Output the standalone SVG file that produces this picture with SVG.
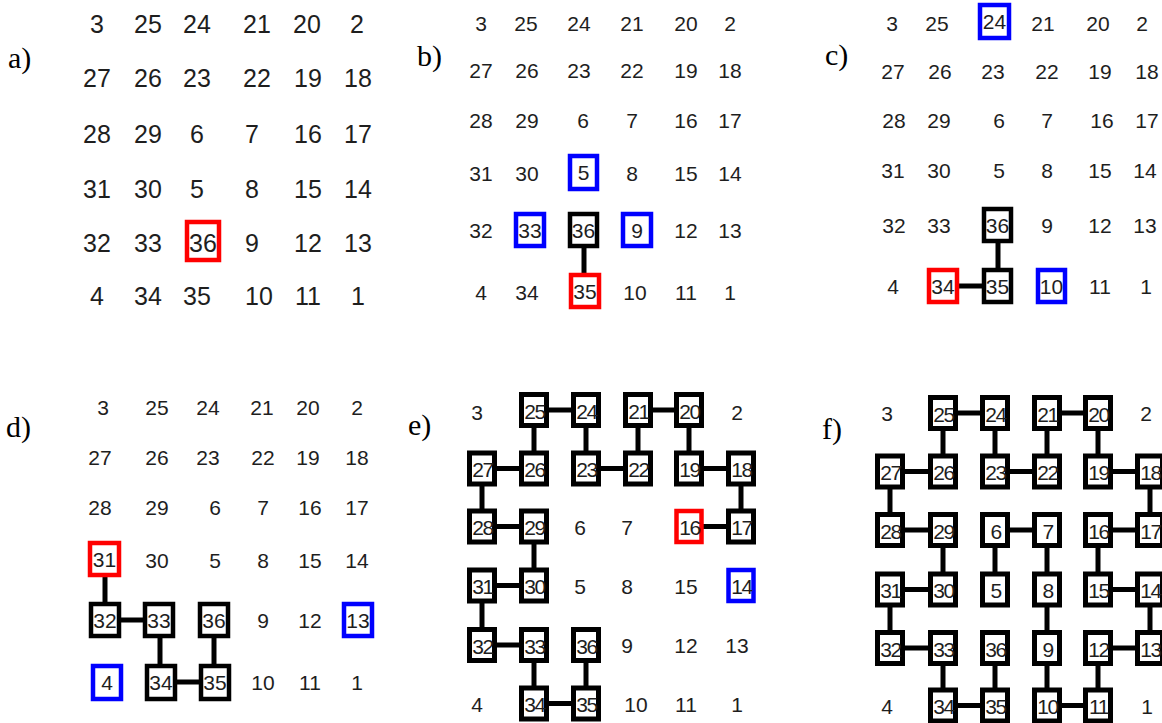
<svg xmlns="http://www.w3.org/2000/svg" width="1162" height="723" viewBox="0 0 1162 723">
<style>
.t{font-family:"Liberation Sans",Arial,sans-serif;fill:#1e1e1e;text-anchor:middle}
.ta{font-size:25px}.tb{font-size:21px}
.tx text{font-size:21px;letter-spacing:-1.5px}
.lab{font-family:"Liberation Serif","Times New Roman",serif;font-size:30px;fill:#000;text-anchor:start}
.bk{fill:#fff;stroke:#000;stroke-width:4.5}
.bk5{fill:#fff;stroke:#000;stroke-width:5}
.rd{fill:#fff;stroke:#f00;stroke-width:4.5}
.bl{fill:#fff;stroke:#00f;stroke-width:4.5}
.rd5{fill:#fff;stroke:#f00;stroke-width:4.5}
.bl5{fill:#fff;stroke:#00f;stroke-width:4.5}
.conn line{stroke:#000;stroke-width:5}
</style>
<rect width="1162" height="723" fill="#fff"/>

<!-- Panel a -->
<g id="panel-a" class="t ta">
<text class="lab" x="8" y="68">a)</text>
<text x="97" y="32.5">3</text><text x="148" y="32.5">25</text><text x="197" y="32.5">24</text><text x="257" y="32.5">21</text><text x="307" y="32.5">20</text><text x="357" y="32.5">2</text>
<text x="97" y="86.5">27</text><text x="148" y="86.5">26</text><text x="197" y="86.5">23</text><text x="257" y="86.5">22</text><text x="308" y="86.5">19</text><text x="358" y="86.5">18</text>
<text x="97" y="142.5">28</text><text x="148" y="142.5">29</text><text x="197" y="142.5">6</text><text x="252" y="142.5">7</text><text x="308" y="142.5">16</text><text x="358" y="142.5">17</text>
<text x="97" y="197.5">31</text><text x="148" y="197.5">30</text><text x="197" y="197.5">5</text><text x="252" y="197.5">8</text><text x="308" y="197.5">15</text><text x="358" y="197.5">14</text>
<text x="97" y="251.5">32</text><text x="148" y="251.5">33</text><text x="252" y="251.5">9</text><text x="308" y="251.5">12</text><text x="358" y="251.5">13</text>
<text x="97" y="304.5">4</text><text x="148" y="304.5">34</text><text x="197" y="304.5">35</text><text x="259" y="304.5">10</text><text x="308" y="304.5">11</text><text x="358" y="304.5">1</text>
<g id="a-n36"><rect class="rd" x="187" y="222" width="32" height="38"/><text x="203" y="251.5">36</text></g>
</g>

<!-- Panel b -->
<g id="panel-b" class="t tb">
<text class="lab" x="417" y="66">b)</text>
<g class="conn"><line x1="584" y1="230" x2="584" y2="291"/></g>
<text x="481" y="30.5">3</text><text x="526" y="30.5">25</text><text x="579" y="30.5">24</text><text x="632" y="30.5">21</text><text x="686" y="30.5">20</text><text x="730" y="30.5">2</text>
<text x="481" y="77.5">27</text><text x="527" y="77.5">26</text><text x="579" y="77.5">23</text><text x="632" y="77.5">22</text><text x="686" y="77.5">19</text><text x="730" y="77.5">18</text>
<text x="481" y="127.5">28</text><text x="527" y="127.5">29</text><text x="583" y="127.5">6</text><text x="632" y="127.5">7</text><text x="686" y="127.5">16</text><text x="730" y="127.5">17</text>
<text x="481" y="180.5">31</text><text x="527" y="180.5">30</text><text x="632" y="180.5">8</text><text x="686" y="180.5">15</text><text x="730" y="180.5">14</text>
<text x="481" y="237.5">32</text><text x="686" y="237.5">12</text><text x="730" y="237.5">13</text>
<text x="481" y="299.5">4</text><text x="527" y="299.5">34</text><text x="635" y="299.5">10</text><text x="686" y="299.5">11</text><text x="730" y="299.5">1</text>
<g id="b-n5"><rect class="bl" x="570" y="156" width="27" height="33"/><text x="583.5" y="180">5</text></g>
<g id="b-n33"><rect class="bl" x="516" y="214" width="28" height="32"/><text x="530" y="237.5">33</text></g>
<g id="b-n36"><rect class="bk" x="570" y="214" width="27" height="32"/><text x="583.5" y="237.5">36</text></g>
<g id="b-n9"><rect class="bl" x="623" y="214" width="28" height="32"/><text x="637" y="237.5">9</text></g>
<g id="b-n35"><rect class="rd" x="571" y="275" width="28" height="32"/><text x="585" y="299">35</text></g>
</g>

<!-- Panel c -->
<g id="panel-c" class="t tb">
<text class="lab" x="825" y="65">c)</text>
<g class="conn"><line x1="998" y1="225" x2="998" y2="286"/><line x1="943" y1="286" x2="998" y2="286"/></g>
<text x="892" y="30.5">3</text><text x="937" y="30.5">25</text><text x="1043" y="30.5">21</text><text x="1098" y="30.5">20</text><text x="1142" y="30.5">2</text>
<text x="893" y="78.5">27</text><text x="940" y="78.5">26</text><text x="993" y="78.5">23</text><text x="1047" y="78.5">22</text><text x="1100" y="78.5">19</text><text x="1147" y="78.5">18</text>
<text x="894" y="127.5">28</text><text x="939" y="127.5">29</text><text x="999" y="127.5">6</text><text x="1047" y="127.5">7</text><text x="1102" y="127.5">16</text><text x="1147" y="127.5">17</text>
<text x="893" y="177.5">31</text><text x="939" y="177.5">30</text><text x="999" y="177.5">5</text><text x="1047" y="177.5">8</text><text x="1100" y="177.5">15</text><text x="1145" y="177.5">14</text>
<text x="894" y="233">32</text><text x="939" y="233">33</text><text x="1047" y="233">9</text><text x="1100" y="233">12</text><text x="1145" y="233">13</text>
<text x="893" y="294">4</text><text x="1100" y="294">11</text><text x="1146" y="294">1</text>
<g id="c-n24"><rect class="bl" x="980" y="5" width="29" height="33"/><text x="994.5" y="29">24</text></g>
<g id="c-n36"><rect class="bk" x="984" y="209" width="27" height="32"/><text x="997.5" y="233">36</text></g>
<g id="c-n34"><rect class="rd" x="929" y="270" width="28" height="32"/><text x="943" y="294">34</text></g>
<g id="c-n35"><rect class="bk" x="984" y="270" width="27" height="32"/><text x="997.5" y="294">35</text></g>
<g id="c-n10"><rect class="bl" x="1038" y="270" width="27" height="32"/><text x="1051.5" y="294">10</text></g>
</g>

<!-- Panel d -->
<g id="panel-d" class="t tb">
<text class="lab" x="6" y="437">d)</text>
<g class="conn">
<line x1="105" y1="559" x2="105" y2="620"/><line x1="105" y1="620" x2="159" y2="620"/>
<line x1="160" y1="620" x2="160" y2="682"/><line x1="214" y1="620" x2="214" y2="682"/>
<line x1="161" y1="682" x2="215" y2="682"/>
</g>
<text x="103" y="414.5">3</text><text x="157" y="414.5">25</text><text x="208" y="414.5">24</text><text x="262" y="414.5">21</text><text x="308" y="414.5">20</text><text x="357" y="414.5">2</text>
<text x="100" y="464.5">27</text><text x="157" y="464.5">26</text><text x="208" y="464.5">23</text><text x="263" y="464.5">22</text><text x="308" y="464.5">19</text><text x="357" y="464.5">18</text>
<text x="100" y="514.5">28</text><text x="157" y="514.5">29</text><text x="215" y="514.5">6</text><text x="263" y="514.5">7</text><text x="310" y="514.5">16</text><text x="357" y="514.5">17</text>
<text x="157" y="567.5">30</text><text x="215" y="567.5">5</text><text x="263" y="567.5">8</text><text x="310" y="567.5">15</text><text x="357" y="567.5">14</text>
<text x="263" y="627.5">9</text><text x="310" y="627.5">12</text>
<text x="263" y="690">10</text><text x="310" y="690">11</text><text x="357" y="690">1</text>
<g id="d-n31"><rect class="rd" x="90" y="543" width="29" height="32"/><text x="104.5" y="567">31</text></g>
<g id="d-n32"><rect class="bk" x="91" y="604" width="28" height="32"/><text x="105" y="627.5">32</text></g>
<g id="d-n33"><rect class="bk" x="145" y="604" width="28" height="32"/><text x="159" y="627.5">33</text></g>
<g id="d-n36"><rect class="bk" x="200" y="604" width="28" height="32"/><text x="214" y="627.5">36</text></g>
<g id="d-n13"><rect class="bl" x="344" y="604" width="28" height="32"/><text x="358" y="627.5">13</text></g>
<g id="d-n4"><rect class="bl" x="93" y="666" width="28" height="33"/><text x="107" y="690">4</text></g>
<g id="d-n34"><rect class="bk" x="147" y="666" width="28" height="33"/><text x="161" y="690">34</text></g>
<g id="d-n35"><rect class="bk" x="201" y="666" width="28" height="33"/><text x="215" y="690">35</text></g>
</g>

<!-- Panel e -->
<g id="panel-e" class="t tb">
<text class="lab" x="408" y="435">e)</text>
<g class="conn">
<line x1="534" y1="410" x2="586" y2="410"/><line x1="638" y1="410" x2="689" y2="410"/>
<line x1="534" y1="410" x2="534" y2="468.5"/><line x1="586" y1="410" x2="586" y2="468.5"/><line x1="638" y1="410" x2="638" y2="468.5"/><line x1="689" y1="410" x2="689" y2="468.5"/>
<line x1="482" y1="468.5" x2="534" y2="468.5"/><line x1="586" y1="468.5" x2="638" y2="468.5"/><line x1="689" y1="468.5" x2="741" y2="468.5"/>
<line x1="482" y1="468.5" x2="482" y2="526.5"/><line x1="741" y1="468.5" x2="741" y2="526.5"/>
<line x1="482" y1="526.5" x2="534" y2="526.5"/><line x1="689" y1="526.5" x2="741" y2="526.5"/>
<line x1="534" y1="526.5" x2="534" y2="585.5"/>
<line x1="482" y1="585.5" x2="534" y2="585.5"/>
<line x1="482" y1="585.5" x2="482" y2="645"/>
<line x1="482" y1="645" x2="534" y2="645"/>
<line x1="534" y1="645" x2="534" y2="703.5"/><line x1="586" y1="645" x2="586" y2="703.5"/>
<line x1="534" y1="703.5" x2="586" y2="703.5"/>
</g>
<text x="477" y="419.5">3</text><text x="737" y="419.5">2</text>
<text x="580" y="534.5">6</text><text x="627" y="534.5">7</text>
<text x="580" y="593.5">5</text><text x="627" y="593.5">8</text><text x="686" y="593.5">15</text>
<text x="627" y="653">9</text><text x="686" y="653">12</text><text x="737" y="653">13</text>
<text x="477" y="711.5">4</text><text x="636" y="711.5">10</text><text x="686" y="711.5">11</text><text x="737" y="711.5">1</text>
<g class="tx">
<g id="e-n25"><rect class="bk5" x="521.5" y="394.5" width="25" height="31"/><text x="534.5" y="418.5">25</text></g>
<g id="e-n24"><rect class="bk5" x="573.5" y="394.5" width="25" height="31"/><text x="586.5" y="418.5">24</text></g>
<g id="e-n21"><rect class="bk5" x="625.5" y="394.5" width="25" height="31"/><text x="638.5" y="418.5">21</text></g>
<g id="e-n20"><rect class="bk5" x="676.5" y="394.5" width="25" height="31"/><text x="689.5" y="418.5">20</text></g>
<g id="e-n27"><rect class="bk5" x="469.5" y="453" width="25" height="31"/><text x="482.5" y="477">27</text></g>
<g id="e-n26"><rect class="bk5" x="521.5" y="453" width="25" height="31"/><text x="534.5" y="477">26</text></g>
<g id="e-n23"><rect class="bk5" x="573.5" y="453" width="25" height="31"/><text x="586.5" y="477">23</text></g>
<g id="e-n22"><rect class="bk5" x="625.5" y="453" width="25" height="31"/><text x="638.5" y="477">22</text></g>
<g id="e-n19"><rect class="bk5" x="676.5" y="453" width="25" height="31"/><text x="689.5" y="477">19</text></g>
<g id="e-n18"><rect class="bk5" x="728.5" y="453" width="25" height="31"/><text x="741.5" y="477">18</text></g>
<g id="e-n28"><rect class="bk5" x="469.5" y="511" width="25" height="31"/><text x="482.5" y="535">28</text></g>
<g id="e-n29"><rect class="bk5" x="521.5" y="511" width="25" height="31"/><text x="534.5" y="535">29</text></g>
<g id="e-n16"><rect class="rd5" x="676.5" y="511" width="25" height="31"/><text x="689.5" y="535">16</text></g>
<g id="e-n17"><rect class="bk5" x="728.5" y="511" width="25" height="31"/><text x="741.5" y="535">17</text></g>
<g id="e-n31"><rect class="bk5" x="469.5" y="570" width="25" height="31"/><text x="482.5" y="594">31</text></g>
<g id="e-n30"><rect class="bk5" x="521.5" y="570" width="25" height="31"/><text x="534.5" y="594">30</text></g>
<g id="e-n14"><rect class="bl5" x="728.5" y="570" width="25" height="31"/><text x="741.5" y="594">14</text></g>
<g id="e-n32"><rect class="bk5" x="469.5" y="629.5" width="25" height="31"/><text x="482.5" y="653.5">32</text></g>
<g id="e-n33"><rect class="bk5" x="521.5" y="629.5" width="25" height="31"/><text x="534.5" y="653.5">33</text></g>
<g id="e-n36"><rect class="bk5" x="573.5" y="629.5" width="25" height="31"/><text x="586.5" y="653.5">36</text></g>
<g id="e-n34"><rect class="bk5" x="521.5" y="688" width="25" height="31"/><text x="534.5" y="712">34</text></g>
<g id="e-n35"><rect class="bk5" x="573.5" y="688" width="25" height="31"/><text x="586.5" y="712">35</text></g>
</g>
</g>

<!-- Panel f -->
<g id="panel-f" class="t tb">
<text class="lab" x="822" y="439">f)</text>
<g class="conn">
<line x1="943" y1="413" x2="995" y2="413"/><line x1="1047" y1="413" x2="1098" y2="413"/>
<line x1="943" y1="413" x2="943" y2="471.5"/><line x1="995" y1="413" x2="995" y2="471.5"/><line x1="1047" y1="413" x2="1047" y2="471.5"/><line x1="1098" y1="413" x2="1098" y2="471.5"/>
<line x1="890" y1="471.5" x2="943" y2="471.5"/><line x1="995" y1="471.5" x2="1047" y2="471.5"/><line x1="1098" y1="471.5" x2="1150" y2="471.5"/>
<line x1="890" y1="471.5" x2="890" y2="530"/><line x1="1150" y1="471.5" x2="1150" y2="530"/>
<line x1="890" y1="530" x2="943" y2="530"/><line x1="995" y1="530" x2="1047" y2="530"/><line x1="1098" y1="530" x2="1150" y2="530"/>
<line x1="943" y1="530" x2="943" y2="589.5"/><line x1="995" y1="530" x2="995" y2="589.5"/><line x1="1047" y1="530" x2="1047" y2="589.5"/><line x1="1098" y1="530" x2="1098" y2="589.5"/>
<line x1="890" y1="589.5" x2="943" y2="589.5"/><line x1="1098" y1="589.5" x2="1150" y2="589.5"/>
<line x1="890" y1="589.5" x2="890" y2="648"/><line x1="1047" y1="589.5" x2="1047" y2="648"/><line x1="1150" y1="589.5" x2="1150" y2="648"/>
<line x1="890" y1="648" x2="943" y2="648"/><line x1="1098" y1="648" x2="1150" y2="648"/>
<line x1="943" y1="648" x2="943" y2="705.5"/><line x1="995" y1="648" x2="995" y2="705.5"/><line x1="1047" y1="648" x2="1047" y2="705.5"/><line x1="1098" y1="648" x2="1098" y2="705.5"/>
<line x1="943" y1="705.5" x2="995" y2="705.5"/><line x1="1047" y1="705.5" x2="1098" y2="705.5"/>
</g>
<text x="887" y="421">3</text><text x="1146" y="421">2</text><text x="887" y="713.5">4</text><text x="1147" y="713.5">1</text>
<g class="tx">
<g id="f-n25"><rect class="bk5" x="930.5" y="397.5" width="25" height="31"/><text x="943.5" y="421.5">25</text></g>
<g id="f-n24"><rect class="bk5" x="982.5" y="397.5" width="25" height="31"/><text x="995.5" y="421.5">24</text></g>
<g id="f-n21"><rect class="bk5" x="1034.5" y="397.5" width="25" height="31"/><text x="1047.5" y="421.5">21</text></g>
<g id="f-n20"><rect class="bk5" x="1085.5" y="397.5" width="25" height="31"/><text x="1098.5" y="421.5">20</text></g>
<g id="f-n27"><rect class="bk5" x="877.5" y="456" width="25" height="31"/><text x="890.5" y="480">27</text></g>
<g id="f-n26"><rect class="bk5" x="930.5" y="456" width="25" height="31"/><text x="943.5" y="480">26</text></g>
<g id="f-n23"><rect class="bk5" x="982.5" y="456" width="25" height="31"/><text x="995.5" y="480">23</text></g>
<g id="f-n22"><rect class="bk5" x="1034.5" y="456" width="25" height="31"/><text x="1047.5" y="480">22</text></g>
<g id="f-n19"><rect class="bk5" x="1085.5" y="456" width="25" height="31"/><text x="1098.5" y="480">19</text></g>
<g id="f-n18"><rect class="bk5" x="1137.5" y="456" width="25" height="31"/><text x="1150.5" y="480">18</text></g>
<g id="f-n28"><rect class="bk5" x="877.5" y="514.5" width="25" height="31"/><text x="890.5" y="538.5">28</text></g>
<g id="f-n29"><rect class="bk5" x="930.5" y="514.5" width="25" height="31"/><text x="943.5" y="538.5">29</text></g>
<g id="f-n6"><rect class="bk5" x="982.5" y="514.5" width="25" height="31"/><text x="995.5" y="538.5">6</text></g>
<g id="f-n7"><rect class="bk5" x="1034.5" y="514.5" width="25" height="31"/><text x="1047.5" y="538.5">7</text></g>
<g id="f-n16"><rect class="bk5" x="1085.5" y="514.5" width="25" height="31"/><text x="1098.5" y="538.5">16</text></g>
<g id="f-n17"><rect class="bk5" x="1137.5" y="514.5" width="25" height="31"/><text x="1150.5" y="538.5">17</text></g>
<g id="f-n31"><rect class="bk5" x="877.5" y="574" width="25" height="31"/><text x="890.5" y="598">31</text></g>
<g id="f-n30"><rect class="bk5" x="930.5" y="574" width="25" height="31"/><text x="943.5" y="598">30</text></g>
<g id="f-n5"><rect class="bk5" x="982.5" y="574" width="25" height="31"/><text x="995.5" y="598">5</text></g>
<g id="f-n8"><rect class="bk5" x="1034.5" y="574" width="25" height="31"/><text x="1047.5" y="598">8</text></g>
<g id="f-n15"><rect class="bk5" x="1085.5" y="574" width="25" height="31"/><text x="1098.5" y="598">15</text></g>
<g id="f-n14"><rect class="bk5" x="1137.5" y="574" width="25" height="31"/><text x="1150.5" y="598">14</text></g>
<g id="f-n32"><rect class="bk5" x="877.5" y="632.5" width="25" height="31"/><text x="890.5" y="656.5">32</text></g>
<g id="f-n33"><rect class="bk5" x="930.5" y="632.5" width="25" height="31"/><text x="943.5" y="656.5">33</text></g>
<g id="f-n36"><rect class="bk5" x="982.5" y="632.5" width="25" height="31"/><text x="995.5" y="656.5">36</text></g>
<g id="f-n9"><rect class="bk5" x="1034.5" y="632.5" width="25" height="31"/><text x="1047.5" y="656.5">9</text></g>
<g id="f-n12"><rect class="bk5" x="1085.5" y="632.5" width="25" height="31"/><text x="1098.5" y="656.5">12</text></g>
<g id="f-n13"><rect class="bk5" x="1137.5" y="632.5" width="25" height="31"/><text x="1150.5" y="656.5">13</text></g>
<g id="f-n34"><rect class="bk5" x="930.5" y="690" width="25" height="31"/><text x="943.5" y="714">34</text></g>
<g id="f-n35"><rect class="bk5" x="982.5" y="690" width="25" height="31"/><text x="995.5" y="714">35</text></g>
<g id="f-n10"><rect class="bk5" x="1034.5" y="690" width="25" height="31"/><text x="1047.5" y="714">10</text></g>
<g id="f-n11"><rect class="bk5" x="1085.5" y="690" width="25" height="31"/><text x="1098.5" y="714">11</text></g>
</g>
</g>
</svg>
